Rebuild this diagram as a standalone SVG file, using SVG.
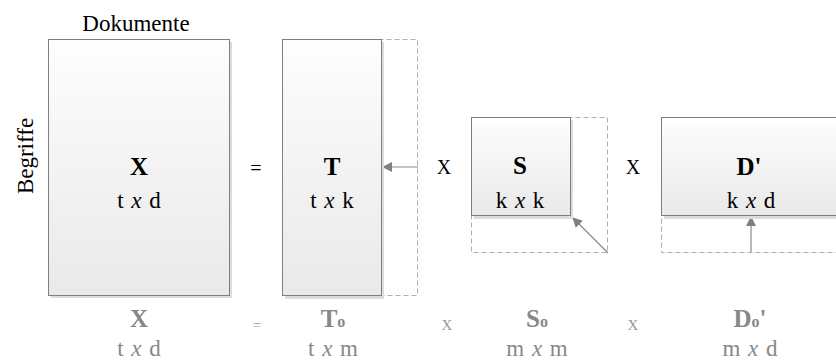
<svg xmlns="http://www.w3.org/2000/svg" width="836" height="362" viewBox="0 0 836 362">
<defs>
<linearGradient id="g" x1="0" y1="0" x2="0" y2="1">
<stop offset="0" stop-color="#ffffff"/>
<stop offset="0.12" stop-color="#fbfbfb"/>
<stop offset="1" stop-color="#e9e9e9"/>
</linearGradient>
<marker id="ah" viewBox="0 0 10 10" refX="9" refY="5" markerWidth="10" markerHeight="10" markerUnits="userSpaceOnUse" orient="auto">
<path d="M0,0 L10,5 L0,10 Z" fill="#808080"/>
</marker>
<style>
.box{fill:url(#g);stroke:#7f7f7f;stroke-width:1}
.sh{fill:#dcdcdc}
.dash{fill:none;stroke:#b0b0b0;stroke-width:1;stroke-dasharray:5,3}
.arr{stroke:#8a8a8a;stroke-width:1.2;fill:none;marker-end:url(#ah)}
text{fill:#000;text-anchor:middle}
.big{font-size:25px;font-weight:bold}
.dim{font-size:23px;word-spacing:2px}
.op{font-size:20px}
.lab{font-size:23px}
.g{fill:#888888}
.gop{font-size:15px;fill:#999999}
.it{font-style:italic}
</style>
</defs>
<g font-family="Liberation Serif, Times New Roman, serif">
<g id="connectors">
<line class="arr" x1="418" y1="167" x2="383" y2="167"/>
<line class="arr" x1="608" y1="253" x2="573" y2="218"/>
<line class="arr" x1="751" y1="253" x2="751" y2="217"/>
</g>
<g id="nodeX">
<rect class="sh" x="51" y="42" width="181" height="256"/>
<rect class="box" x="48.5" y="39.5" width="181" height="256"/>
<text class="big" x="139" y="175">X</text>
<text class="dim" x="139" y="208">t <tspan class="it">x</tspan> d</text>
</g>
<g id="labelDokumente"><text class="lab" x="136" y="31">Dokumente</text></g>
<g id="labelBegriffe"><text class="lab" transform="translate(33,156) rotate(-90)">Begriffe</text></g>
<g id="eq1"><text class="op" x="256" y="175">=</text></g>
<g id="nodeT">
<rect class="dash" x="282.5" y="39.5" width="135" height="256"/>
<rect class="sh" x="285" y="42" width="99" height="257"/>
<rect class="box" x="282.5" y="39.5" width="99" height="256"/>
<text class="big" x="332" y="175">T</text>
<text class="dim" x="332" y="208">t <tspan class="it">x</tspan> k</text>
</g>
<g id="op1"><text class="op" x="444" y="174">X</text></g>
<g id="nodeS">
<rect class="dash" x="471.5" y="117.5" width="136" height="135"/>
<rect class="sh" x="474" y="120" width="99" height="99"/>
<rect class="box" x="471.5" y="117.5" width="99" height="98"/>
<text class="big" x="520" y="174">S</text>
<text class="dim" x="520" y="208">k <tspan class="it">x</tspan> k</text>
</g>
<g id="op2"><text class="op" x="633" y="174">X</text></g>
<g id="nodeD">
<rect class="dash" x="661.5" y="117.5" width="190" height="135"/>
<rect class="sh" x="664" y="120" width="190" height="99"/>
<rect class="box" x="661.5" y="117.5" width="190" height="98"/>
<text class="big" x="749" y="175">D'</text>
<text class="dim" x="751" y="208">k <tspan class="it">x</tspan> d</text>
</g>
<g id="bottomRow">
<text class="big g" x="139" y="327">X</text>
<text class="dim g" x="139" y="356">t <tspan class="it">x</tspan> d</text>
<text class="gop" x="257" y="330">=</text>
<text class="big g" x="333" y="327">T<tspan font-size="16px">o</tspan></text>
<text class="dim g" x="333" y="356">t <tspan class="it">x</tspan> m</text>
<text class="gop" x="447" y="330">X</text>
<text class="big g" x="537" y="327">S<tspan font-size="16px">o</tspan></text>
<text class="dim g" x="537" y="356">m <tspan class="it">x</tspan> m</text>
<text class="gop" x="633" y="330">X</text>
<text class="big g" x="750" y="327">D<tspan font-size="16px">o</tspan>'</text>
<text class="dim g" x="750" y="356">m <tspan class="it">x</tspan> d</text>
</g>
</g>
</svg>
